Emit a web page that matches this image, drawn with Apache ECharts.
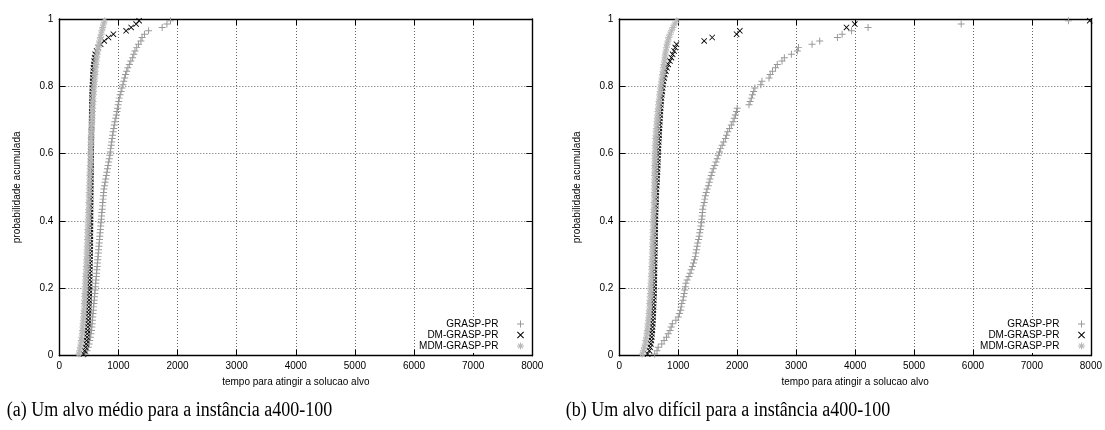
<!DOCTYPE html>
<html><head><meta charset="utf-8">
<script src="https://cdn.jsdelivr.net/npm/echarts@6/dist/echarts.min.js"></script>
<style>html,body{margin:0;padding:0;background:#fff}#c{width:1105px;height:430px}</style>
</head><body><div id="c"></div>
<script>
// ---------- data ----------
const SERIES_NAMES = ['GRASP-PR', 'DM-GRASP-PR', 'MDM-GRASP-PR'];
const X_MIN = 0, X_MAX = 8000, X_STEP = 1000;
const Y_MIN = 0, Y_MAX = 1, Y_STEP = 0.2;
const X_TITLE = 'tempo para atingir a solucao alvo';
const Y_TITLE = 'probabilidade acumulada';
const CAPTIONS = ['(a) Um alvo médio para a instância a400-100', '(b) Um alvo difícil para a instância a400-100'];

// cumulative probability of each of the 100 sorted runs
const PROB = [0.005,0.015,0.025,0.035,0.045,0.055,0.065,0.075,0.085,0.095,
0.105,0.115,0.125,0.135,0.145,0.155,0.165,0.175,0.185,0.195,
0.205,0.215,0.225,0.235,0.245,0.255,0.265,0.275,0.285,0.295,
0.305,0.315,0.325,0.335,0.345,0.355,0.365,0.375,0.385,0.395,
0.405,0.415,0.425,0.435,0.445,0.455,0.465,0.475,0.485,0.495,
0.505,0.515,0.525,0.535,0.545,0.555,0.565,0.575,0.585,0.595,
0.605,0.615,0.625,0.635,0.645,0.655,0.665,0.675,0.685,0.695,
0.705,0.715,0.725,0.735,0.745,0.755,0.765,0.775,0.785,0.795,
0.805,0.815,0.825,0.835,0.845,0.855,0.865,0.875,0.885,0.895,
0.905,0.915,0.925,0.935,0.945,0.955,0.965,0.975,0.985,0.995];

// (a) medium target: sorted times
const A_GRASP = [440,470,490,505,515,525,535,545,550,555,
560,565,570,575,580,585,590,595,600,605,
610,615,620,625,630,635,640,645,650,655,
660,665,670,675,680,685,690,695,700,705,
710,715,720,725,730,735,740,745,750,755,
765,775,785,795,805,815,825,835,845,855,
862,870,878,886,894,902,910,920,930,940,
955,965,975,985,995,1005,1015,1030,1045,1060,
1075,1090,1105,1120,1140,1160,1185,1210,1240,1260,
1280,1310,1340,1380,1400,1440,1510,1740,1820,1880];
const A_DM = [410,430,445,455,462,468,473,478,482,486,
489,492,495,497,499,501,503,505,507,509,
511,513,514,515,516,517,518,519,520,521,
522,523,524,525,525,526,526,527,527,528,
528,529,529,530,530,531,531,532,532,533,
533,534,534,535,535,536,536,537,537,538,
538,539,540,541,542,543,544,545,546,547,
548,549,550,551,552,553,554,555,557,559,
561,564,567,570,574,578,583,590,598,608,
630,660,700,760,832,915,1130,1215,1300,1350];
const A_MDM = [330,345,355,365,372,380,386,392,397,402,
406,410,414,418,421,424,427,430,433,436,
439,442,445,448,451,454,457,460,463,466,
468,470,472,474,476,478,480,482,485,488,
490,492,494,496,498,500,502,504,506,508,
510,512,514,516,518,520,522,524,526,528,
530,532,534,536,538,540,543,546,549,552,
555,558,561,564,567,570,573,577,581,585,
590,595,600,605,610,615,620,626,632,640,
650,660,670,682,695,708,720,735,750,765];

// (b) hard target: sorted times
const B_GRASP = [600,640,660,720,760,800,830,860,880,900,
960,1000,1020,1040,1050,1060,1080,1090,1100,1110,
1120,1130,1150,1180,1200,1220,1240,1260,1275,1290,
1300,1310,1320,1330,1345,1355,1365,1375,1385,1395,
1400,1405,1410,1415,1425,1440,1450,1460,1475,1490,
1510,1525,1540,1560,1575,1595,1620,1640,1660,1680,
1700,1720,1745,1770,1800,1820,1840,1870,1900,1930,
1950,1970,1990,2000,2200,2220,2240,2260,2280,2300,
2400,2420,2540,2560,2600,2650,2680,2760,2800,2920,
3020,3040,3270,3400,3700,3780,3940,4220,5800,7620];
const B_DM = [480,510,525,535,545,550,555,560,564,568,
571,574,577,579,581,583,585,587,589,591,
592,593,594,595,596,597,598,599,600,601,
602,603,604,605,606,607,608,609,610,611,
612,614,616,618,620,622,624,626,628,630,
635,638,641,644,647,650,652,654,656,658,
660,663,666,669,672,675,678,681,684,687,
690,694,698,702,706,710,716,722,728,735,
740,750,762,775,790,810,830,860,885,905,
930,950,970,1440,1576,1990,2045,3854,3995,7980];
const B_MDM = [390,410,425,440,450,460,468,475,482,488,
494,499,504,508,512,516,520,524,528,531,
534,537,540,543,546,549,552,554,556,558,
560,562,564,566,568,570,572,574,576,578,
580,582,584,586,588,590,591,592,593,594,
595,596,597,598,599,600,601,602,603,604,
606,608,610,613,616,620,624,628,633,638,
643,648,654,660,666,672,678,685,692,700,
708,716,724,732,740,748,756,764,772,780,
790,800,812,825,840,860,885,910,940,975];

// ---------- styling ----------
const SANS = 'Liberation Sans';
const COLORS = ['#999999', '#000000', '#b8b8b8'];
const PLUS = 'path://M0,4.3H10V5.7H0Z M4.3,0H5.7V10H4.3Z';
const CROSS = 'path://M0,1L1,0L10,9L9,10Z M9,0L10,1L1,10L0,9Z';
const STAR = 'path://M0,4.3H10V5.7H0Z M4.3,0H5.7V10H4.3Z M1,2L2,1L9,8L8,9Z M8,1L9,2L2,9L1,8Z';
const SYMBOLS = [PLUS, CROSS, STAR];
const SIZES = [7, 6, 7];

const GRIDS = [
  {left: 59.3, top: 19, width: 473, height: 336.7},
  {left: 619.3, top: 19, width: 473, height: 336.7}
];

const chart = echarts.init(document.getElementById('c'), null, {renderer: 'canvas'});

const xAxes = [], yAxes = [], series = [], legends = [];
const panels = [[A_GRASP, A_DM, A_MDM], [B_GRASP, B_DM, B_MDM]];
const legendRight = [579, 18];

GRIDS.forEach((g, gi) => {
  const tick = {show: true, inside: true, length: 6, lineStyle: {color: '#000', width: 1}};
  const line = {show: true, onZero: false, lineStyle: {color: '#000', width: 1.4}};
  const split = {show: true, lineStyle: {color: '#666', width: 1, type: [1, 2]}};
  xAxes.push({
    type: 'value', gridIndex: gi, position: 'bottom', min: X_MIN, max: X_MAX, interval: X_STEP,
    axisLine: line, axisTick: tick, splitLine: split,
    axisLabel: {show: true, margin: 6, color: '#000', fontFamily: SANS, fontSize: 10, formatter: v => String(v)},
    name: X_TITLE, nameLocation: 'middle', nameGap: 22,
    nameTextStyle: {color: '#000', fontFamily: SANS, fontSize: 10}
  });
  xAxes.push({
    type: 'value', gridIndex: gi, position: 'top', min: X_MIN, max: X_MAX, interval: X_STEP,
    axisLine: line, axisTick: tick, splitLine: {show: false}, axisLabel: {show: false}
  });
  yAxes.push({
    type: 'value', gridIndex: gi, position: 'left', min: Y_MIN, max: Y_MAX, interval: Y_STEP,
    axisLine: line, axisTick: tick, splitLine: split,
    axisLabel: {show: true, margin: 6, color: '#000', fontFamily: SANS, fontSize: 10, formatter: v => String(v)},
    name: Y_TITLE, nameLocation: 'middle', nameGap: 37, nameRotate: 90,
    nameTextStyle: {color: '#000', fontFamily: SANS, fontSize: 10}
  });
  yAxes.push({
    type: 'value', gridIndex: gi, position: 'right', min: Y_MIN, max: Y_MAX, interval: Y_STEP,
    axisLine: line, axisTick: tick, splitLine: {show: false}, axisLabel: {show: false}
  });
  panels[gi].forEach((times, si) => {
    series.push({
      type: 'scatter', name: SERIES_NAMES[si],
      xAxisIndex: gi * 2, yAxisIndex: gi * 2,
      data: times.map((t, i) => [t, PROB[i]]),
      symbol: SYMBOLS[si], symbolSize: SIZES[si], symbolKeepAspect: true,
      itemStyle: {color: COLORS[si], opacity: 1},
      emphasis: {disabled: true},
      z: 2 + si
    });
  });
  legends.push({
    orient: 'vertical', align: 'right', right: legendRight[gi], bottom: 77,
    itemWidth: 34, itemHeight: 7, itemGap: 1, padding: [2, 2, 2, 2],
    backgroundColor: '#fff', selectedMode: false, symbolKeepAspect: true,
    textStyle: {color: '#000', fontFamily: SANS, fontSize: 10, lineHeight: 10},
    data: SERIES_NAMES.map((n, si) => ({name: n, icon: SYMBOLS[si]}))
  });
});

chart.setOption({
  animation: false,
  backgroundColor: '#fff',
  grid: GRIDS,
  xAxis: xAxes,
  yAxis: yAxes,
  legend: legends,
  series: series,
  graphic: [
    {type: 'text', x: 169.5, y: 410, scaleY: 1.2,
     style: {text: CAPTIONS[0], fontSize: 18, fontFamily: 'Liberation Serif', fill: '#000', align: 'center', verticalAlign: 'middle'}},
    {type: 'text', x: 728, y: 410, scaleY: 1.2,
     style: {text: CAPTIONS[1], fontSize: 18, fontFamily: 'Liberation Serif', fill: '#000', align: 'center', verticalAlign: 'middle'}}
  ]
});
</script>
</body></html>
